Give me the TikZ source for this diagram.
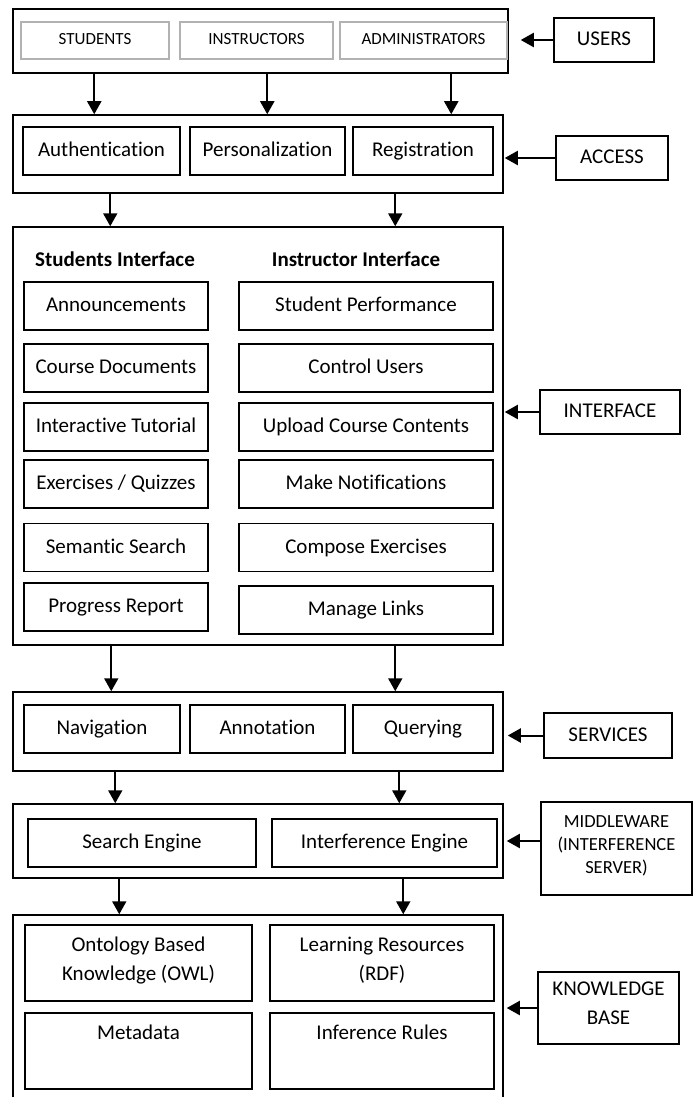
\documentclass[tikz,border=0pt]{standalone}
\usepackage{fontspec}
\setmainfont{Carlito}[Ligatures=NoCommon]
\usetikzlibrary{arrows.meta}

\begin{document}
\begin{tikzpicture}[x=1pt, y=-1pt,
    layer/.style={draw, line width=1.5pt, minimum width=490pt, inner sep=0pt},
    item/.style={draw, line width=1.5pt, font=\fontsize{21}{29}\selectfont, align=center, inner sep=0pt, minimum height=48pt,
        execute at begin node=\strut, execute at end node=\strut},
    usr/.style={draw=gray!60, line width=1.2pt, font=\fontsize{17}{20}\selectfont, minimum height=37pt, inner sep=0pt,
        execute at begin node=\strut},
    tag/.style={draw, line width=1.5pt, font=\fontsize{21}{29}\selectfont, align=center, inner sep=0pt,
        execute at begin node=\strut, execute at end node=\strut},
    head/.style={font=\fontsize{21}{29}\selectfont\bfseries},
    arr/.style={-{Triangle[length=13pt, width=14pt]}, line width=2pt}]
            \clip (0, 0) rectangle (698, 1097);
            \fill[white] (0, 0) rectangle (698, 1097);
            \node[layer, minimum width=495pt, minimum height=64pt] (users) at (260.5, 41) {};
            \node[usr, minimum width=148pt] (students) at (95, 40.5) {STUDENTS};
            \node[usr, minimum width=153pt] (instructors) at (256.5, 40.5) {INSTRUCTORS};
            \node[usr, minimum width=167pt] (admins) at (423.5, 40.5) {ADMINISTRATORS};
            \node[tag, minimum width=100pt, minimum height=44pt] (userstag) at (604, 40) {USERS};
            \draw[arr, shorten >=12pt] (userstag.west) -- (userstag.west -| users.east);

            \node[layer, minimum height=78pt] (access) at (258, 154) {};
            \node[item, minimum width=157pt] (auth) at (101.5, 151) {Authentication};
            \node[item, minimum width=155pt] (pers) at (267.5, 151) {Personalization};
            \node[item, minimum width=140pt] (reg) at (423, 151) {Registration};
            \node[tag, minimum width=112pt, minimum height=44pt] (accesstag) at (612, 158) {ACCESS};
            \draw[arr, shorten >=1pt] (accesstag.west) -- (accesstag.west -| access.east);
            \draw[arr] ([xshift=82pt]users.south west) -- ([xshift=82pt]access.north west);
            \draw[arr] ([xshift=255pt]users.south west) -- ([xshift=255pt]access.north west);
            \draw[arr] ([xshift=439pt]users.south west) -- ([xshift=439pt]access.north west);

            \node[layer, minimum height=418pt] (iface) at (258, 436) {};
            \node[head] (shead) at (115, 259) {Students Interface};
            \node[head] (ihead) at (356, 259) {Instructor Interface};
            \node[item, minimum width=184pt] (announce) at (116, 306) {Announcements};
            \node[item, minimum width=184pt] (coursedocs) at (116, 368) {Course Documents};
            \node[item, minimum width=184pt] (tutorial) at (116, 427) {Interactive Tutorial};
            \node[item, minimum width=184pt] (quizzes) at (116, 484) {Exercises / Quizzes};
            \node[item, minimum width=184pt] (semsearch) at (116, 547.5) {Semantic Search};
            \node[item, minimum width=184pt] (progress) at (116, 607) {Progress Report};
            \node[item, minimum width=254pt] (perf) at (366, 306) {Student Performance};
            \node[item, minimum width=254pt] (control) at (366, 368) {Control Users};
            \node[item, minimum width=254pt] (upload) at (366, 427) {Upload Course Contents};
            \node[item, minimum width=254pt] (notify) at (366, 484) {Make Notifications};
            \node[item, minimum width=254pt] (compose) at (366, 547.5) {Compose Exercises};
            \node[item, minimum width=254pt] (links) at (366, 610) {Manage Links};
            \node[tag, minimum width=140pt, minimum height=44pt] (ifacetag) at (610, 412) {INTERFACE};
            \draw[arr, shorten >=1pt] (ifacetag.west) -- (ifacetag.west -| iface.east);
            \draw[arr] ([xshift=98pt]access.south west) -- ([xshift=98pt]iface.north west);
            \draw[arr] ([xshift=383pt]access.south west) -- ([xshift=383pt]iface.north west);

            \node[layer, minimum height=79pt] (services) at (258, 731.5) {};
            \node[item, minimum width=156pt] (nav) at (102, 729) {Navigation};
            \node[item, minimum width=155pt] (annot) at (267.5, 729) {Annotation};
            \node[item, minimum width=140pt] (query) at (423, 729) {Querying};
            \node[tag, minimum width=128pt, minimum height=45pt] (servicestag) at (608, 735.5) {SERVICES};
            \draw[arr, shorten >=4pt] (servicestag.west) -- (servicestag.west -| services.east);
            \draw[arr] ([xshift=99pt]iface.south west) -- ([xshift=99pt]services.north west);
            \draw[arr] ([xshift=383pt]iface.south west) -- ([xshift=383pt]services.north west);

            \node[layer, minimum height=74pt] (middle) at (258, 841) {};
            \node[item, minimum width=228pt] (search) at (142, 843) {Search Engine};
            \node[item, minimum width=225pt] (infer) at (384.5, 843) {Interference Engine};
            \node[tag, minimum width=151pt, minimum height=93pt, font=\fontsize{18.5}{23}\selectfont] (middletag) at (616.5, 848.5) {MIDDLEWARE\\(INTERFERENCE\\SERVER)};
            \draw[arr, shorten >=3pt] (middletag.west |- middle.east) -- (middle.east);
            \draw[arr] ([xshift=103pt]services.south west) -- ([xshift=103pt]middle.north west);
            \draw[arr] ([xshift=387pt]services.south west) -- ([xshift=387pt]middle.north west);

            \node[layer, minimum height=200pt] (kb) at (258, 1015) {};
            \node[item, minimum width=227pt, minimum height=76pt] (owl) at (138.5, 963) {Ontology Based\\Knowledge (OWL)};
            \node[item, minimum width=224pt, minimum height=76pt] (rdf) at (382, 963) {Learning Resources\\(RDF)};
            \node[item, minimum width=227pt, minimum height=76pt] (meta) at (138.5, 1051) {Metadata\\~};
            \node[item, minimum width=224pt, minimum height=76pt] (rules) at (382, 1051) {Inference Rules\\~};
            \node[tag, minimum width=141pt, minimum height=72pt] (kbtag) at (608.5, 1008) {KNOWLEDGE\\BASE};
            \draw[arr, shorten >=3pt] (kbtag.west) -- (kbtag.west -| kb.east);
            \draw[arr] ([xshift=107pt]middle.south west) -- ([xshift=107pt]kb.north west);
            \draw[arr] ([xshift=391pt]middle.south west) -- ([xshift=391pt]kb.north west);
        \end{tikzpicture}
\end{document}
